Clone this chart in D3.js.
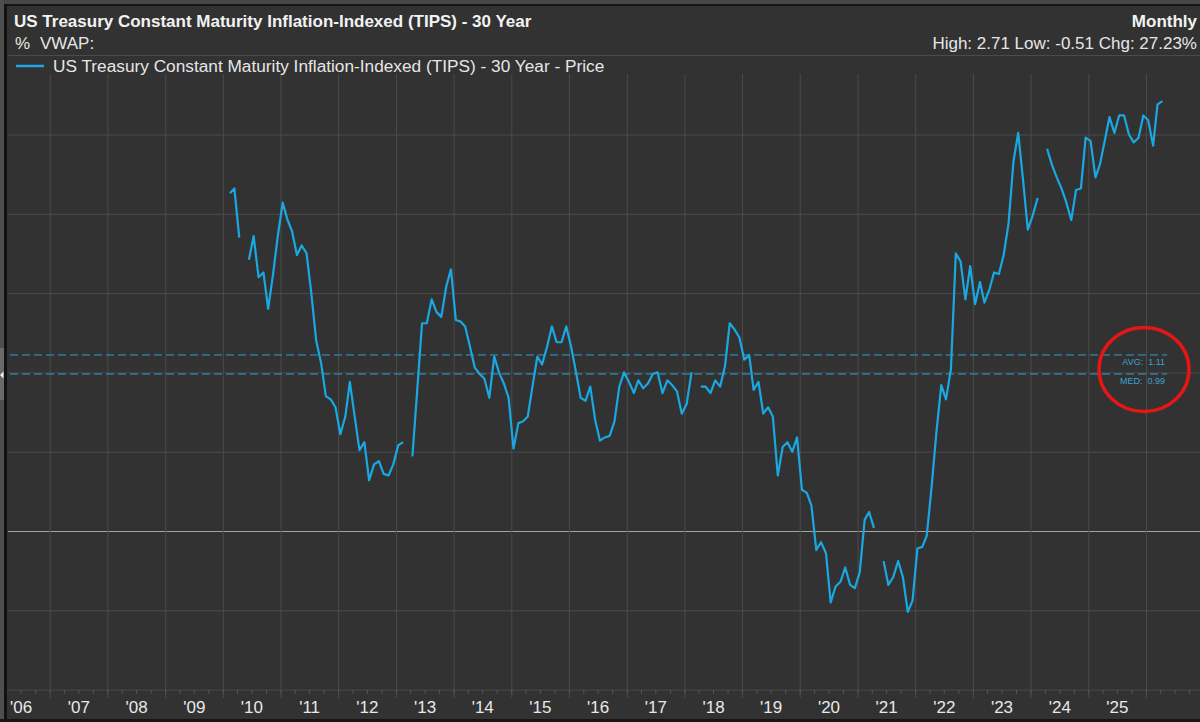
<!DOCTYPE html>
<html>
<head>
<meta charset="utf-8">
<script src="https://cdn.jsdelivr.net/npm/d3@7"></script>
<style>
  body { margin: 0; background: #323232; overflow: hidden; }
  text { font-family: "Liberation Sans", Arial, sans-serif; }
</style>
</head>
<body>
<div id="chart"></div>
<script>
// monthly 30y TIPS yield (%), series starts Feb 2010, null = no print that month
const firstMonth = "2010-02"
const y2010 = [2.13, 2.16, 1.85, null, 1.71, 1.86, 1.60, 1.63, 1.40, 1.62, 1.86]
const y2011 = [2.07, 1.96, 1.89, 1.74, 1.80, 1.75, 1.50, 1.20, 1.06, 0.85, 0.83, 0.78]
const y2012 = [0.61, 0.72, 0.94, 0.72, 0.51, 0.56, 0.32, 0.42, 0.44, 0.36, 0.35, 0.42]
const y2013 = [0.54, 0.56, null, 0.47, 0.88, 1.31, 1.31, 1.46, 1.38, 1.35, 1.54, 1.65]
const y2014 = [1.33, 1.32, 1.29, 1.16, 1.03, 0.99, 0.96, 0.84, 1.10, 1.00, 0.93, 0.84]
const y2015 = [0.52, 0.68, 0.69, 0.72, 0.91, 1.10, 1.05, 1.16, 1.29, 1.19, 1.19, 1.29]
const y2016 = [1.16, 1.00, 0.84, 0.82, 0.91, 0.70, 0.57, 0.59, 0.60, 0.69, 0.91, 1.00]
const y2017 = [0.94, 0.87, 0.95, 0.90, 0.93, 0.99, 1.00, 0.87, 0.95, 0.92, 0.88, 0.74]
const y2018 = [0.80, 1.00, null, 0.91, 0.91, 0.87, 0.95, 0.91, 1.04, 1.31, 1.27, 1.22]
const y2019 = [1.08, 1.11, 0.89, 0.94, 0.74, 0.78, 0.72, 0.35, 0.53, 0.56, 0.50, 0.59]
const y2020 = [0.26, 0.24, 0.16, -0.12, -0.07, -0.14, -0.45, -0.35, -0.32, -0.23, -0.34, -0.36]
const y2021 = [-0.26, 0.07, 0.12, 0.02, null, -0.19, -0.34, -0.29, -0.19, -0.29, -0.51, -0.44]
const y2022 = [-0.11, -0.10, -0.03, 0.28, 0.62, 0.92, 0.83, 1.02, 1.75, 1.70, 1.46, 1.67]
const y2023 = [1.43, 1.57, 1.44, 1.52, 1.63, 1.62, 1.74, 1.94, 2.33, 2.51, 2.21, 1.90]
const y2024 = [1.99, 2.10, null, 2.41, 2.31, 2.23, 2.16, 2.07, 1.96, 2.15, 2.16, 2.48]
const y2025 = [2.46, 2.23, 2.31, 2.46, 2.61, 2.51, 2.62, 2.62, 2.50, 2.45, 2.48, 2.62]
const y2026 = [2.59, 2.43, 2.69, 2.71]

// reference lines
const refNames = ["AVG", "MED"]
const refValues = [1.11, 0.99]

// header texts
const title = "US Treasury Constant Maturity Inflation-Indexed (TIPS) - 30 Year"
const seriesName = "US Treasury Constant Maturity Inflation-Indexed (TIPS) - 30 Year - Price"
const statsText = "High: 2.71 Low: -0.51 Chg: 27.23%"
const yearLabels = d3.range(2006, 2026)
const yGrid = [-1, -0.5, 0, 0.5, 1, 1.5, 2, 2.5]

const W = 1200, H = 722
const PLOT = { LEFT: 8, RIGHT: 1200, TOP: 74, BOTTOM: 698 }
const LINE_COLOR = "#1aa8e2"
const GRID = "#4b4b4b"

const svg = d3.select("#chart").append("svg")
    .attr("width", W)
    .attr("height", H)

svg.append("rect").attr("width", W).attr("height", H).attr("fill", "#323232")

const x = d3.scaleUtc()
    .domain([new Date(Date.UTC(2007, 0, 1)), new Date(Date.UTC(2026, 0, 1))])
    .range([49.7, 1146])

const y = d3.scaleLinear()
    .domain([-0.5, 2.5])
    .range([610.3, 134.5])

// build the series
const start = d3.utcParse("%Y-%m")(firstMonth)
const values = [].concat(y2010, y2011, y2012, y2013, y2014, y2015, y2016, y2017, y2018,
    y2019, y2020, y2021, y2022, y2023, y2024, y2025, y2026)
const data = values.map((v, i) => ({
    date: d3.utcDay.offset(d3.utcMonth.offset(start, i), 14),
    value: v
}))

//horizontal grid
svg.append("g")
    .attr("transform", "translate(" + PLOT.RIGHT + ",0)")
    .call(d3.axisLeft(y).tickValues(yGrid).tickSize(PLOT.RIGHT - PLOT.LEFT).tickFormat(""))
    .call(g => g.select(".domain").remove())
    .call(g => g.selectAll(".tick line")
        .attr("stroke", d => d === 0 ? "#a3a3a3" : GRID)
        .attr("stroke-width", 1))

//vertical grid at year starts
svg.append("g")
    .attr("transform", "translate(0," + PLOT.BOTTOM + ")")
    .call(d3.axisBottom(x)
        .tickValues(d3.utcYears(new Date(Date.UTC(2007, 0, 1)), new Date(Date.UTC(2027, 0, 2))))
        .tickSize(-(PLOT.BOTTOM - PLOT.TOP))
        .tickFormat(""))
    .call(g => g.select(".domain").remove())
    .call(g => g.selectAll(".tick line").attr("stroke", GRID))

// small quarter ticks on the bottom line
svg.append("g")
    .attr("transform", "translate(0," + (y(-1) + 0.5) + ")")
    .call(d3.axisTop(x)
        .tickValues(d3.utcMonths(new Date(Date.UTC(2006, 0, 1)), new Date(Date.UTC(2027, 0, 1)), 3))
        .tickSize(-4)
        .tickFormat(""))
    .call(g => g.select(".domain").remove())
    .call(g => g.selectAll(".tick line").attr("stroke", "#555"))

// year labels centered in each year
svg.append("g")
    .attr("transform", "translate(0,713)")
    .call(d3.axisBottom(x)
        .tickValues(yearLabels.map(yr => new Date(Date.UTC(yr, 6, 1))))
        .tickSize(0)
        .tickFormat(d => "'" + String(d.getUTCFullYear()).slice(2)))
    .call(g => g.select(".domain").remove())
    .call(g => g.selectAll("text")
        .attr("y", 0)
        .attr("dy", 0)
        .attr("fill", "#e8e8e8")
        .attr("font-size", 17)
        .attr("font-family", "'Liberation Sans', Arial, sans-serif"))

// avg / median dashed lines
refValues.forEach((v, i) => {
    svg.append("line")
        .attr("x1", PLOT.LEFT + 2).attr("x2", 1167)
        .attr("y1", y(v)).attr("y2", y(v))
        .attr("stroke", "#2f9fd3")
        .attr("stroke-width", 1)
        .attr("stroke-dasharray", "8,4")
    svg.append("text")
        .attr("x", 1165)
        .attr("y", y(v) + 10.5)
        .attr("text-anchor", "end")
        .attr("font-size", 9)
        .attr("fill", "#3aa3d6")
        .style("white-space", "pre")
        .text(refNames[i] + ":  " + refValues[i].toFixed(2))
})

// the price line
const line = d3.line()
    .defined(d => d.value !== null)
    .x(d => x(d.date))
    .y(d => y(d.value))

svg.append("path")
    .datum(data)
    .attr("fill", "none")
    .attr("stroke", LINE_COLOR)
    .attr("stroke-width", 2.2)
    .attr("stroke-linejoin", "round")
    .attr("d", line)

// header area
svg.append("rect").attr("x", 0).attr("y", 0).attr("width", W).attr("height", 55).attr("fill", "#323232")
svg.append("rect").attr("x", PLOT.LEFT).attr("y", 56).attr("width", W).attr("height", PLOT.TOP - 56).attr("fill", "#323232")
svg.append("line")
    .attr("x1", PLOT.LEFT).attr("x2", W)
    .attr("y1", 55.5).attr("y2", 55.5)
    .attr("stroke", GRID)

svg.append("text")
    .attr("x", 14).attr("y", 27)
    .attr("font-size", 17).attr("font-weight", "bold")
    .attr("fill", "#f2f2f2")
    .text(title)

svg.append("text").attr("x", 15).attr("y", 49).attr("font-size", 17).attr("fill", "#e6e6e6").text("%")
svg.append("text").attr("x", 40).attr("y", 49).attr("font-size", 17).attr("fill", "#e6e6e6").text("VWAP:")

// right side header, kept just inside the edge
svg.append("text")
    .attr("x", 1197).attr("y", 27)
    .attr("text-anchor", "end")
    .attr("font-size", 17).attr("font-weight", "bold")
    .attr("fill", "#f2f2f2")
    .text("Monthly")

svg.append("text")
    .attr("x", 1197).attr("y", 49)
    .attr("text-anchor", "end")
    .attr("font-size", 17)
    .attr("fill", "#e6e6e6")
    .text(statsText)

// legend
svg.append("line")
    .attr("x1", 16).attr("x2", 44)
    .attr("y1", 66).attr("y2", 66)
    .attr("stroke", LINE_COLOR).attr("stroke-width", 2.5)
svg.append("text")
    .attr("x", 53).attr("y", 72)
    .attr("font-size", 17.25)
    .attr("fill", "#e6e6e6")
    .text(seriesName)

// frame edges
svg.append("rect").attr("x", 0).attr("y", 0).attr("width", W).attr("height", 4).attr("fill", "#474747")
svg.append("line").attr("x1", 0).attr("x2", W).attr("y1", 5).attr("y2", 5).attr("stroke", "#151515").attr("stroke-width", 2)
svg.append("rect").attr("x", 0).attr("y", 0).attr("width", 4).attr("height", H).attr("fill", "#4e4e4e")
svg.append("line").attr("x1", 5.5).attr("x2", 5.5).attr("y1", 4).attr("y2", H).attr("stroke", "#121212").attr("stroke-width", 3)
svg.append("rect").attr("x", 0).attr("y", 348).attr("width", 4).attr("height", 52).attr("fill", "#6a6a6a")
svg.append("path").attr("d", "M0,375 L3.5,371.5 L3.5,378.5 Z").attr("fill", "#f0f0f0")
svg.append("line").attr("x1", 0).attr("x2", W).attr("y1", 720.5).attr("y2", 720.5).attr("stroke", "#151515").attr("stroke-width", 3)

// highlight circle
svg.append("ellipse")
    .attr("cx", 1144).attr("cy", 369.5)
    .attr("rx", 45).attr("ry", 42)
    .attr("fill", "none")
    .attr("stroke", "#e41616")
    .attr("stroke-width", 3.5)
</script>
</body>
</html>
